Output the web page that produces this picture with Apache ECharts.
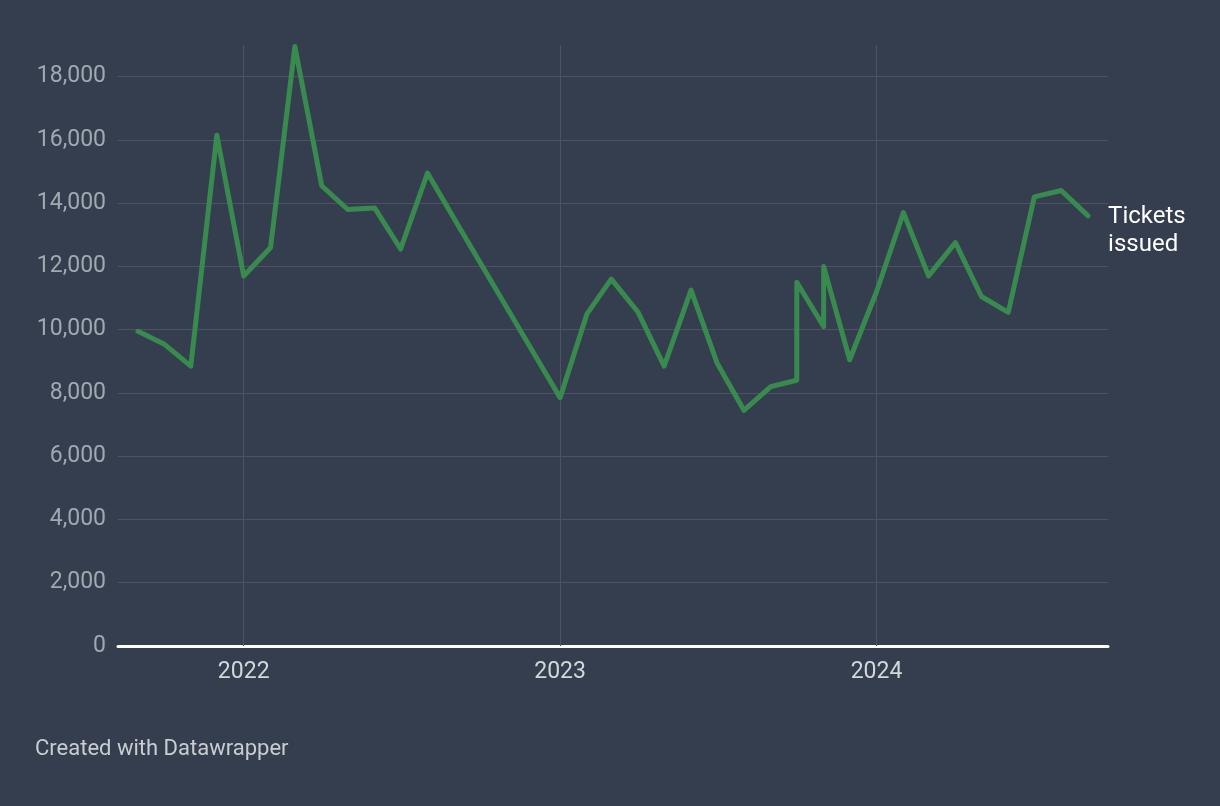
<!DOCTYPE html>
<html>
<head>
<meta charset="utf-8">
<script src="https://cdn.jsdelivr.net/npm/echarts@6/dist/echarts.min.js"></script>
<style>
  html, body { margin: 0; padding: 0; background: #343e4f; }
  #chart { width: 1220px; height: 806px; }
</style>
</head>
<body>
<div id="chart"></div>
<script>
// ---- Data ----
const dates = [
  '2021-09-01','2021-10-01','2021-11-01','2021-12-01',
  '2022-01-01','2022-02-01','2022-03-01','2022-04-01','2022-05-01','2022-06-01',
  '2022-07-01','2022-08-01','2022-09-01',
  '2023-01-01','2023-02-01','2023-03-01','2023-04-01','2023-05-01','2023-06-01',
  '2023-07-01','2023-08-01','2023-09-01','2023-10-01','2023-10-01','2023-11-01','2023-11-01',
  '2023-12-01','2024-01-01','2024-02-01','2024-03-01','2024-04-01','2024-05-01',
  '2024-06-01','2024-07-01','2024-08-01','2024-09-01'
];
const ticketsIssued = [
  9950, 9550, 8850, 16150,
  11700, 12600, 18950, 14550, 13800, 13850,
  12550, 14950, 13500,
  7850, 10500, 11600, 10550, 8850, 11250,
  8950, 7450, 8200, 8400, 11500, 10100, 12000,
  9050, 11200, 13700, 11700, 12750, 11050,
  10550, 14200, 14400, 13600
];
const seriesName = 'Tickets\nissued';
const yearTicks = ['2022-01-01', '2023-01-01', '2024-01-01'];
const yTicks = [0, 2000, 4000, 6000, 8000, 10000, 12000, 14000, 16000, 18000];
const xMin = '2021-08-09';
const xMax = '2024-09-24';
const yMax = 19000;
const footerText = 'Created with Datawrapper';

// ---- Chart ----
const chart = echarts.init(document.getElementById('chart'), null, { renderer: 'canvas' });
const gridColor = '#4c5462';
const toTs = s => Date.UTC(+s.slice(0, 4), +s.slice(5, 7) - 1, +s.slice(8, 10));

const option = {
  backgroundColor: '#343e4f',
  animation: false,
  textStyle: { fontFamily: 'Roboto' },
  grid: { left: 118, right: 112, top: 45, bottom: 160, containLabel: false },
  xAxis: {
    type: 'value',
    min: toTs(xMin),
    max: toTs(xMax),
    axisLine: { show: true, onZero: true, lineStyle: { color: '#ffffff', width: 3 } },
    axisTick: { show: false },
    splitLine: { show: false },
    axisLabel: {
      customValues: yearTicks.map(toTs),
      formatter: v => String(new Date(v).getUTCFullYear()),
      color: '#d3d7dc',
      fontSize: 23,
      fontFamily: 'Roboto',
      margin: 15,
      hideOverlap: false
    }
  },
  yAxis: {
    type: 'value',
    min: 0,
    max: yMax,
    interval: 2000,
    axisLine: { show: false },
    axisTick: { show: false },
    splitLine: { show: false },
    axisLabel: {
      showMaxLabel: false,
      formatter: v => v.toLocaleString('en-US'),
      color: '#a2a8b0',
      fontSize: 23,
      fontFamily: 'Roboto',
      margin: 12
    }
  },
  series: [
    {
      type: 'line',
      name: 'grid',
      data: [],
      silent: true,
      z: 1,
      markLine: {
        silent: true,
        z: 1,
        symbol: ['none', 'none'],
        label: { show: false },
        lineStyle: { color: gridColor, width: 1, type: 'solid' },
        emphasis: { disabled: true },
        data: [
          ...yTicks.filter(v => v > 0).map(v => ({ yAxis: v })),
          ...yearTicks.map(d => ({ xAxis: toTs(d) }))
        ]
      }
    },
    {
      type: 'line',
      name: seriesName,
      z: 3,
      data: dates.map((d, i) => [toTs(d), ticketsIssued[i]]),
      showSymbol: false,
      symbol: 'none',
      lineStyle: { color: '#388a4f', width: 5, join: 'round', cap: 'round' },
      itemStyle: { color: '#388a4f' },
      endLabel: {
        show: true,
        formatter: '{a}',
        color: '#ffffff',
        fontSize: 24,
        fontFamily: 'Roboto',
        lineHeight: 28,
        distance: 20,
        align: 'left',
        verticalAlign: 'middle',
        offset: [0, 15]
      }
    }
  ],
  graphic: [
    {
      type: 'text',
      left: 35,
      top: 738,
      style: {
        text: footerText,
        fill: '#c9cdd2',
        fontSize: 22,
        fontFamily: 'Roboto'
      }
    }
  ]
};
chart.setOption(option);
</script>
</body>
</html>
